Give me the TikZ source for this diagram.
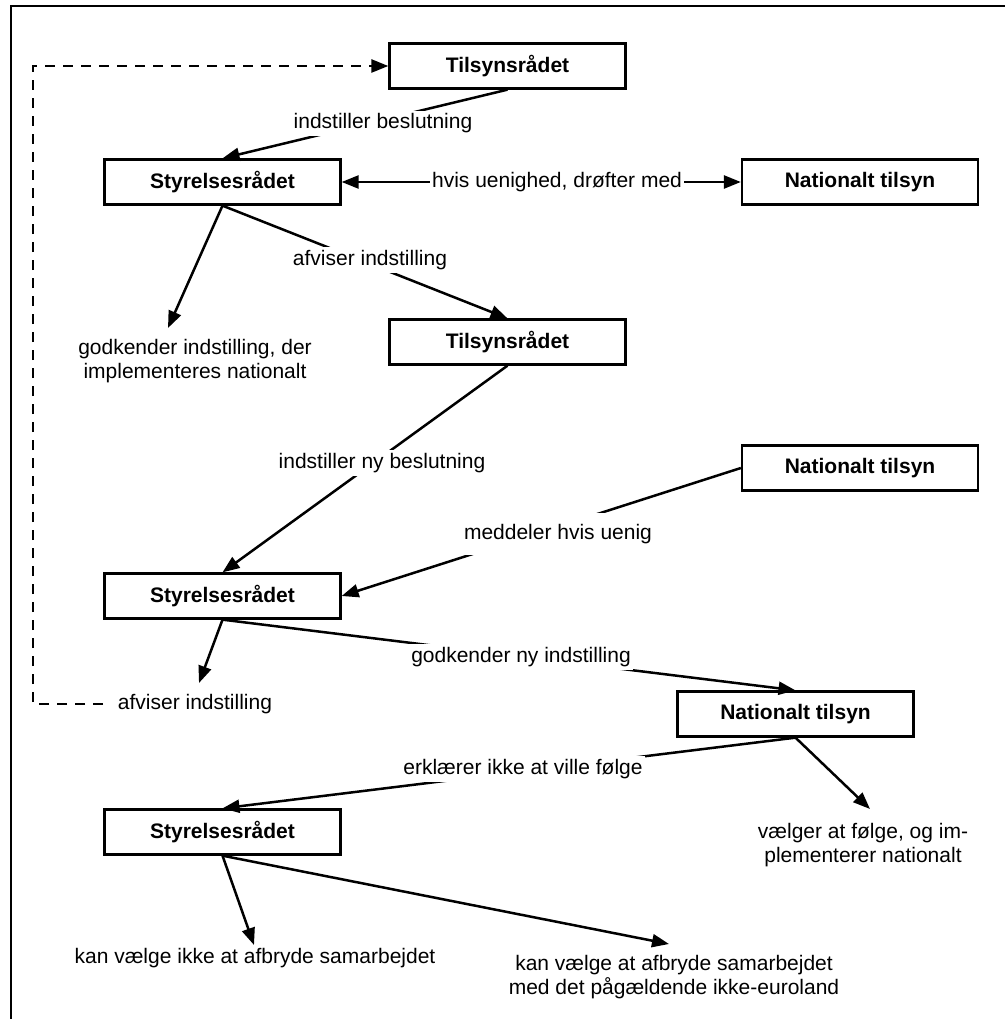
\documentclass[tikz,border=0pt]{standalone}
\usepackage{fontspec}
\setmainfont{Liberation Sans}
\usetikzlibrary{arrows.meta}
\begin{document}
\begin{tikzpicture}[x=1pt,y=-1pt,
  box/.style={draw,line width=2.3pt,minimum width=236pt,minimum height=45pt,inner sep=0pt,font=\fontsize{21}{24}\selectfont\bfseries},
  lbl/.style={fill=white,inner xsep=2pt,inner ysep=3pt,text height=15pt,text depth=4.5pt,font=\fontsize{21}{24}\selectfont},
  txt/.style={align=center,inner sep=0pt,font=\fontsize{21}{24}\selectfont},
  tip/.style={},
  conn/.style={line width=2.5pt,-{Triangle[length=17pt,width=13pt]}},
  dconn/.style={line width=2.5pt,{Triangle[length=17pt,width=13pt]}-{Triangle[length=17pt,width=13pt]}},
  dashconn/.style={line width=2.5pt,dash pattern=on 10pt off 8pt,-{Triangle[length=17pt,width=13pt]}},
]
\useasboundingbox (0,0) rectangle (1005,1019);
\fill[white] (0,0) rectangle (1005,1019);
\draw[line width=2.3pt] (11,1019) -- (11,6) -- (1005,6);

% boxes
\node[box] (T1) at (507.5,66) {Tilsynsrådet};
\node[box] (S1) at (222.5,182) {Styrelsesrådet};
\node[box] (N1) at (860,182) {Nationalt tilsyn};
\node[box] (T2) at (507.5,342) {Tilsynsrådet};
\node[box] (N2) at (860,468) {Nationalt tilsyn};
\node[box] (S2) at (222.5,596) {Styrelsesrådet};
\node[box] (N3) at (795.5,714) {Nationalt tilsyn};
\node[box] (S3) at (222.5,832) {Styrelsesrådet};

% plain texts
\node[txt] (godk) at (195,361) {godkender indstilling, der\\implementeres nationalt};
\node[txt] (afv2) at (195,704) {afviser indstilling};
\node[txt] (vaelg) at (863,845) {vælger at følge, og im-\\plementerer nationalt};
\node[txt] (kan1) at (255,958) {kan vælge ikke at afbryde samarbejdet};
\node[txt] (kan2) at (674,977) {kan vælge at afbryde samarbejdet\\med det pågældende ikke-euroland};

% tip coordinates
\coordinate (tgodk) at (168,328);
\coordinate (tafv2) at (199,683);
\coordinate (tvaelg) at (870,809);
\coordinate (tkan1) at (254,945);
\coordinate (tkan2) at (669,944);
\coordinate (dc) at (33,385);
\coordinate (dstart) at (103,704);

% connectors
\draw[conn] (T1.south) -- (S1.north);
\draw[dconn] (S1.east) -- (N1.west);
\draw[conn] (S1.south) -- (tgodk);
\draw[conn] (S1.south) -- (T2.north);
\draw[conn] (T2.south) -- (S2.north);
\draw[conn] (N2.west) -- (S2.east);
\draw[conn] (S2.south) -- (tafv2);
\draw[conn] (S2.south) -- (N3.north);
\draw[conn] (N3.south) -- (S3.north);
\draw[conn] (N3.south) -- (tvaelg);
\draw[conn] (S3.south) -- (tkan1);
\draw[conn] (S3.south) -- (tkan2);
\draw[dashconn] (dstart) -| (dc) |- (T1.west);

% connector labels
\node[lbl] (l1) at (383,123.5) {indstiller beslutning};
\node[lbl] (l2) at (557,182) {hvis uenighed, drøfter med};
\node[lbl] (l3) at (370,260) {afviser indstilling};
\node[lbl] (l4) at (382,463) {indstiller ny beslutning};
\node[lbl,inner ysep=11pt] (l5) at (558,534) {meddeler hvis uenig};
\node[lbl] (l6) at (521,657) {godkender ny indstilling};
\node[lbl] (l7) at (523,769) {erklærer ikke at ville følge};
\end{tikzpicture}
\end{document}
